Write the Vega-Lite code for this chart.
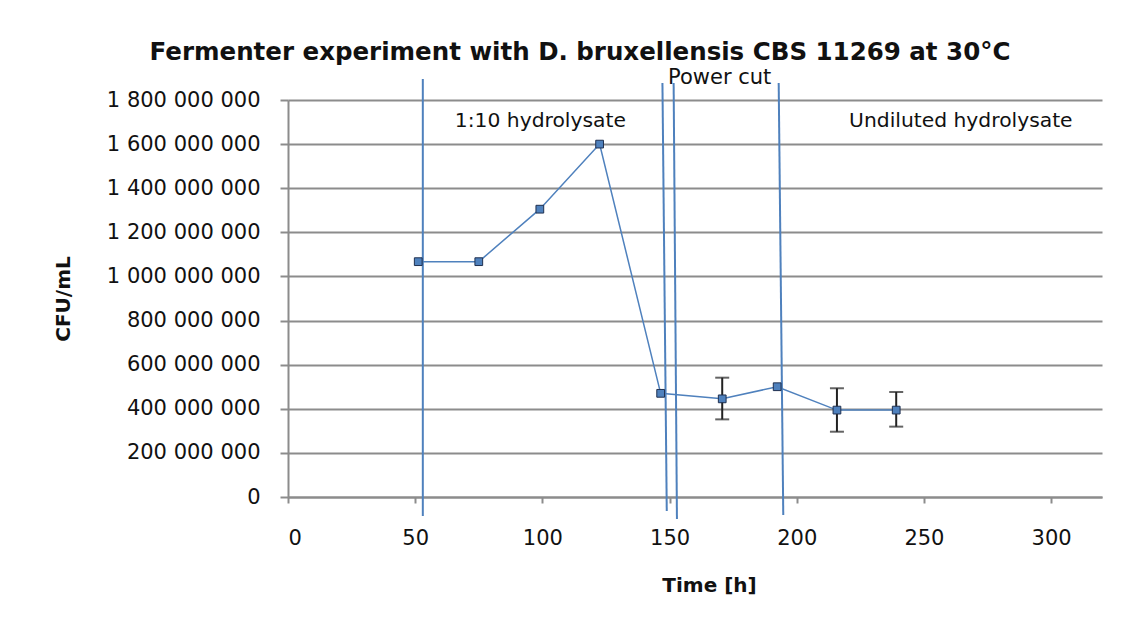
{
  "$schema": "https://vega.github.io/schema/vega-lite/v6.json",
  "width": 814,
  "height": 397,
  "autosize": {"type": "none"},
  "padding": {"left": 288, "top": 100, "right": 38, "bottom": 127},
  "background": "white",
  "config": {
    "view": {"stroke": null},
    "locale": {"number": {"decimal": ".", "thousands": " ", "grouping": [3], "currency": ["", ""]}},
    "axis": {"labelFont": "DejaVu Sans", "labelFontSize": 21, "labelColor": "#111", "titleFont": "DejaVu Sans", "titleFontSize": 20, "titleFontWeight": "bold", "titleColor": "#111", "domainColor": "#8c8c8c", "domainWidth": 2, "tickColor": "#8c8c8c", "tickWidth": 2, "gridColor": "#8c8c8c", "gridWidth": 2}
  },
  "title": {"text": "Fermenter experiment with D. bruxellensis CBS 11269 at 30°C", "font": "DejaVu Sans", "fontSize": 24.5, "fontWeight": "bold", "color": "#111", "anchor": "middle", "dx": -115, "offset": 1},
  "datasets": {
    "points": [
      {"t": 51.2, "cfu": 1067000000},
      {"t": 75, "cfu": 1067000000},
      {"t": 99, "cfu": 1305000000},
      {"t": 122.5, "cfu": 1600000000},
      {"t": 146.5, "cfu": 470000000},
      {"t": 170.7, "cfu": 445000000, "lo": 352000000, "hi": 541000000},
      {"t": 192.3, "cfu": 500000000},
      {"t": 215.8, "cfu": 394000000, "lo": 296000000, "hi": 493000000},
      {"t": 239.1, "cfu": 394000000, "lo": 319000000, "hi": 476000000}
    ],
    "vlines": [
      {"t": 53, "t2": 53, "cfu": 1895000000, "cfu2": -86000000},
      {"t": 147.2, "t2": 148.9, "cfu": 1877000000, "cfu2": -63000000},
      {"t": 151.6, "t2": 152.9, "cfu": 1877000000, "cfu2": -100000000},
      {"t": 192.9, "t2": 194.7, "cfu": 1877000000, "cfu2": -82000000}
    ],
    "notes": [
      {"label": "1:10 hydrolysate", "t": 99.2, "cfu": 1705000000},
      {"label": "Undiluted hydrolysate", "t": 264.5, "cfu": 1705000000}
    ],
    "notes2": [
      {"label": "Power cut", "t": 169.7, "cfu": 1900000000}
    ]
  },
  "encoding": {
    "x": {"field": "t", "type": "quantitative", "scale": {"domain": [0, 320], "nice": false, "zero": false},
          "axis": {"title": "Time [h]", "values": [0, 50, 100, 150, 200, 250, 300], "grid": false, "tickSize": 6, "labelPadding": 24, "titlePadding": 27, "titleX": 421}},
    "y": {"field": "cfu", "type": "quantitative", "scale": {"domain": [0, 1800000000], "nice": false},
          "axis": {"title": "CFU/mL", "values": [0, 200000000, 400000000, 600000000, 800000000, 1000000000, 1200000000, 1400000000, 1600000000, 1800000000], "format": ",d", "grid": true, "tickSize": 8, "labelPadding": 20, "titlePadding": 33}}
  },
  "layer": [
    {
      "data": {"name": "points"},
      "mark": {"type": "line", "color": "#4F81BD", "strokeWidth": 1.5}
    },
    {
      "data": {"name": "vlines"},
      "mark": {"type": "rule", "color": "#4F81BD", "strokeWidth": 2},
      "encoding": {
        "x2": {"field": "t2"},
        "y2": {"field": "cfu2"}
      }
    },
    {
      "data": {"name": "points"},
      "transform": [{"filter": "isValid(datum.lo)"}],
      "mark": {"type": "errorbar", "ticks": true, "size": 14, "thickness": 2, "color": "#222"},
      "encoding": {
        "y": {"field": "lo", "type": "quantitative", "scale": {"domain": [0, 1800000000], "nice": false},
              "axis": {"title": "CFU/mL", "values": [0, 200000000, 400000000, 600000000, 800000000, 1000000000, 1200000000, 1400000000, 1600000000, 1800000000], "format": ",d", "grid": true, "tickSize": 8, "labelPadding": 20, "titlePadding": 33}},
        "y2": {"field": "hi"}
      }
    },
    {
      "data": {"name": "points"},
      "mark": {"type": "square", "size": 60, "filled": true, "color": "#4F81BD", "stroke": "#1F3050", "strokeWidth": 1, "opacity": 1}
    },
    {
      "data": {"name": "notes"},
      "mark": {"type": "text", "font": "DejaVu Sans", "fontSize": 20.3, "color": "#111", "align": "center", "baseline": "middle"},
      "encoding": {"text": {"field": "label"}}
    },
    {
      "data": {"name": "notes2"},
      "mark": {"type": "text", "font": "DejaVu Sans", "fontSize": 21, "color": "#111", "align": "center", "baseline": "middle"},
      "encoding": {"text": {"field": "label"}}
    }
  ]
}
